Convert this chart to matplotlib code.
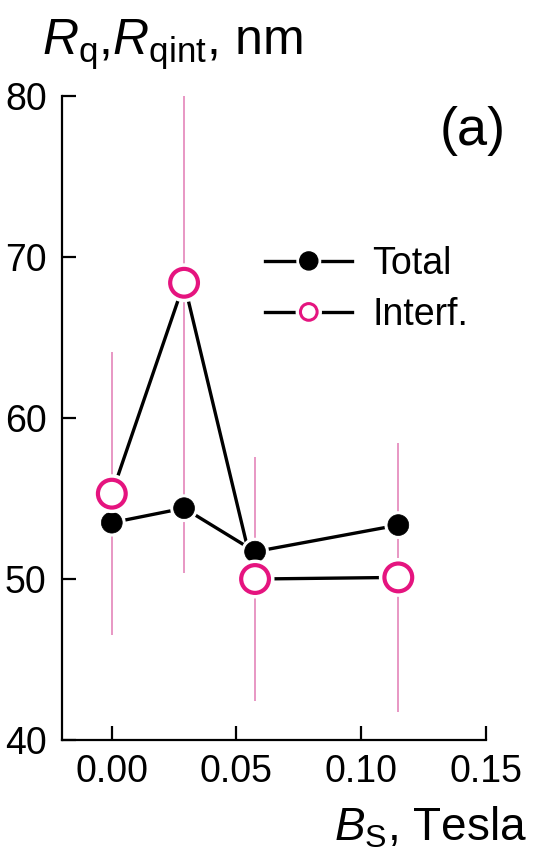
import matplotlib
matplotlib.use('Agg')
from matplotlib import pyplot as plt
from matplotlib.lines import Line2D
from matplotlib.legend_handler import HandlerTuple
import matplotlib.patheffects as pe

# field values (Tesla) and roughness values (nm)
b_field = [0.0, 0.029, 0.0575, 0.115]
rq_total = [53.5, 54.4, 51.7, 53.35]
rq_interf = [55.3, 68.4, 50.0, 50.1]
rq_interf_err = [8.8, 18.0, 7.55, 8.35]

x_ticks = [0.00, 0.05, 0.10, 0.15]
x_ticklabels = ['0.00', '0.05', '0.10', '0.15']
y_ticks = [40, 50, 60, 70, 80]

PINK = '#e5147f'
PINK_BAR = '#e27ab4'

plt.rcParams['font.family'] = ['Liberation Sans', 'DejaVu Sans']
plt.rcParams['mathtext.fontset'] = 'custom'
plt.rcParams['mathtext.rm'] = 'Liberation Sans'
plt.rcParams['mathtext.it'] = 'Liberation Sans:italic'

fig = plt.figure(figsize=(5.33, 8.51), dpi=100)
ax = fig.add_axes([0.1163, 0.1304, 0.7946, 0.7568])

halo_dot = [pe.withStroke(linewidth=5, foreground='white')]
halo_ring = [pe.withStroke(linewidth=8, foreground='white')]

# error bars of the interface roughness
ax.errorbar(b_field, rq_interf, yerr=rq_interf_err, fmt='none', ecolor=PINK_BAR,
            elinewidth=1.1, capsize=0, zorder=1.5)

# connecting lines
ax.plot(b_field, rq_total, color='black', lw=2.4, zorder=1)
ax.plot(b_field, rq_interf, color='black', lw=2.4, zorder=1)

# markers with a white halo so the lines stop short of them
ax.plot(b_field, rq_total, 'o', ms=15, mfc='black', mec='black', mew=0.5,
        path_effects=halo_dot, zorder=3)
ax.plot(b_field, rq_interf, 'o', ms=20, mfc='white', mec=PINK, mew=3,
        path_effects=halo_ring, zorder=3)

ax.set_xlim(-0.02, 0.15)
ax.set_ylim(40, 80)
ax.set_xticks(x_ticks)
ax.set_xticklabels(x_ticklabels)
ax.set_yticks(y_ticks)

for side in ['top', 'right']:
    ax.spines[side].set_visible(False)
for side in ['left', 'bottom']:
    ax.spines[side].set_linewidth(1.6)
ax.tick_params(direction='in', length=10, width=1.6, labelsize=27)
ax.tick_params(axis='x', pad=10)
ax.tick_params(axis='y', pad=11)

# legend built from proxy handles: line + haloed marker, overlaid
line_h = Line2D([], [], color='black', lw=2.4)
tot_h = Line2D([], [], ls='none', marker='o', ms=13, mfc='black', mec='black',
               path_effects=halo_dot)
int_h = Line2D([], [], ls='none', marker='o', ms=12, mfc='white', mec=PINK, mew=2.2,
               path_effects=[pe.withStroke(linewidth=7, foreground='white')])
ax.legend([(line_h, tot_h), (line_h, int_h)], ['Total', 'Interf.'],
          handler_map={tuple: HandlerTuple(ndivide=1, pad=0)},
          loc='upper left', bbox_to_anchor=(0.48, 0.767), frameon=False,
          fontsize=27, handlelength=2.32, handletextpad=0.53, labelspacing=0.4,
          borderpad=0, borderaxespad=0)

ax.text(1.047, 0.985, '(a)', transform=ax.transAxes, ha='right', va='top', fontsize=39)

fig.text(42 / 533, 1 - 55 / 851, r'$R_{\mathrm{q}}$,$R_{\mathrm{qint}}$, nm',
         ha='left', va='baseline', fontsize=36)
fig.text(527 / 533, 1 - 840 / 851, r'$B_{\mathrm{S}}$, Tesla',
         ha='right', va='baseline', fontsize=33)

fig.savefig('out.png', dpi=100)
